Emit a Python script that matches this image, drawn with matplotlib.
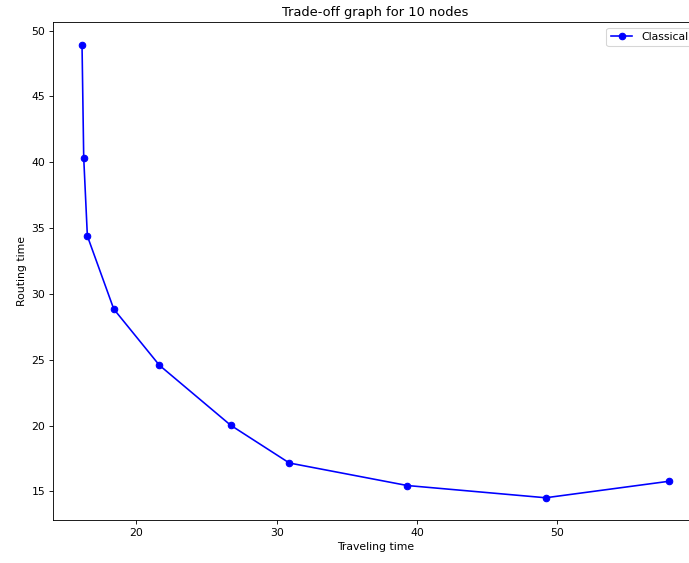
import matplotlib
matplotlib.use("Agg")
import matplotlib.pyplot as plt

# Trade-off points for the classical solver
traveling_time = [16.13, 16.25, 16.51, 18.39, 21.64, 26.72, 30.90, 39.30, 49.16, 57.92]
routing_time = [48.91, 40.35, 34.40, 28.85, 24.58, 20.02, 17.15, 15.44, 14.51, 15.76]
series_label = "Classical"
x_ticks = [20, 30, 40, 50]  # 60 falls outside the cropped image

DPI = 78
fig = plt.figure(figsize=(689 / DPI, 563 / DPI), dpi=DPI)

# axes run past the right edge on purpose: the reference image is cropped there
ax = fig.add_axes([52.7 / 689, 42.6 / 563, 645.3 / 689, 498 / 563])

ax.plot(traveling_time, routing_time, 'bo-', label=series_label)
ax.set_xticks(x_ticks)

ax.set_title('Trade-off graph for 10 nodes')
ax.set_xlabel('Traveling time')
ax.set_ylabel('Routing time')
ax.legend(loc='upper right')

fig.savefig('out.png', dpi=DPI)
